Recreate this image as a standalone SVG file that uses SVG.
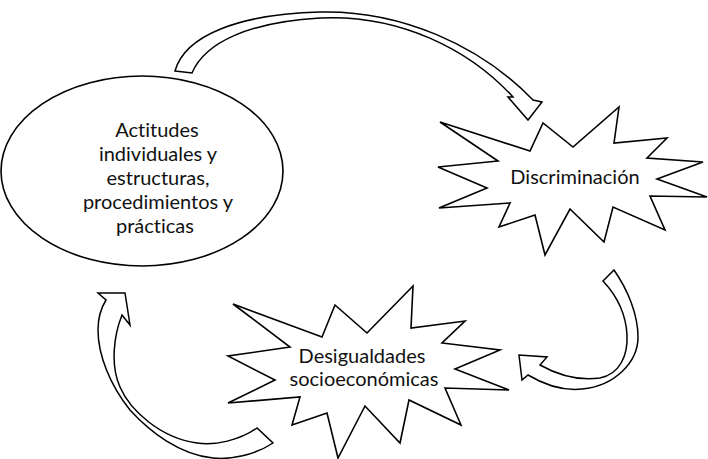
<svg xmlns="http://www.w3.org/2000/svg" width="708" height="459" viewBox="0 0 708 459">
<style>
.shape{fill:#fff;stroke:#000;stroke-width:1.6;stroke-linejoin:miter}
.arrow{fill:#fff;stroke:#000;stroke-width:1.5;stroke-linejoin:miter}
.lbl{font-family:Lato,"Open Sans","Liberation Sans",sans-serif;font-size:20px;fill:#111;text-anchor:middle;font-variant-ligatures:none;font-feature-settings:"liga" 0,"clig" 0}
</style>
<rect width="708" height="459" fill="#fff"/>
<g id="connectors">
<path id="arrow-top" class="arrow" d="M175,71 L192,73 C205,42 250,22 320,18 C400,14 470,50 513,97 L508,97 L528,120 L542,102 L533,100 C480,45 400,10 320,12 C240,14 185,35 175,71 Z"/>
<path id="arrow-right" class="arrow" d="M603,281 L614,270 C628,290 638,315 638,337 C638,362 615,386 582,389 C563,391 543,384 528,375 L522,380 L519,355 L547,357 L540,365 C556,374 578,381 600,378 C620,374 628,355 627,335 C626,315 618,297 603,281 Z"/>
<path id="arrow-left" class="arrow" d="M98,293 L125,293 L130,325 L122,315 C114,335 110,365 120,387 C130,410 160,438 197,443 C215,446 240,440 257,428 L273,443 C255,455 230,460 213,458 C180,455 150,432 130,410 C110,385 98,355 98,330 C98,318 101,308 106,300 Z"/>
</g>
<g id="node-actitudes">
<ellipse class="shape" cx="142" cy="171" rx="141" ry="95"/>
<text class="lbl" x="157" y="137">Actitudes</text>
<text class="lbl" x="158" y="161">individuales y</text>
<text class="lbl" x="158" y="185">estructuras,</text>
<text class="lbl" x="158" y="209">procedimientos y</text>
<text class="lbl" x="155" y="233">prácticas</text>
</g>
<g id="node-discriminacion">
<polygon class="shape" points="440,122 530,151 543,123 573,147 619,107 614,143 667,138 647,158 703,162 657,179 707,197 650,196 665,230 613,207 604,242 570,209 545,255 535,215 499,227 510,203 439,208 487,188 438,167 498,161"/>
<text class="lbl" x="575" y="184">Discriminación</text>
</g>
<g id="node-desigualdades">
<polygon class="shape" points="233,304 322,337 335,305 367,333 413,286 411,328 465,321 442,343 500,350 455,369 509,390 445,388 461,425 409,400 400,443 365,406 338,458 327,413 292,425 300,397 228,403 275,380 228,356 290,347"/>
<text class="lbl" x="362" y="363">Desigualdades</text>
<text class="lbl" x="364" y="386">socioeconómicas</text>
</g>
</svg>
